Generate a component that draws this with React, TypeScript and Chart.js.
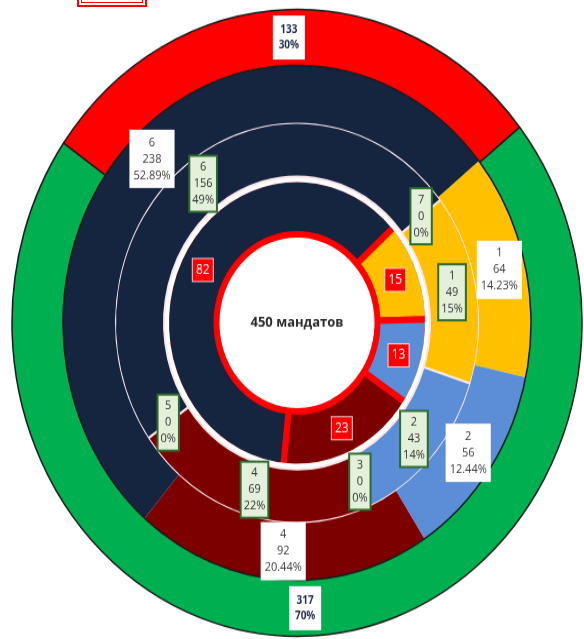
import React, { useEffect, useRef } from "react";
import { Chart, registerables } from "chart.js";

Chart.register(...registerables);

// ---- data ----
const centerTitle = "450 мандатов";
const coalitionSeats = [133, 317];
const coalitionPct = ["30%", "70%"];
const factionCategories = ["1", "2", "4", "6"];
const factionSeats = [64, 56, 92, 238];
const factionPct = ["14.23%", "12.44%", "20.44%", "52.89%"];
const districtCategories = ["1", "2", "3", "4", "5", "6", "7"];
const districtSeats = [49, 43, 0, 69, 0, 156, 0];
const districtPct = ["15%", "14%", "0%", "22%", "0%", "49%", "0%"];
const listSeats = [15, 13, 23, 82];

// ---- styles ----
const RED = "#ff0000";
const GREEN = "#00b050";
const YELLOW = "#ffc000";
const BLUE = "#5b8ed6";
const DARKRED = "#7d0000";
const NAVY = "#15243f";
const GREY = "#999999";
const FONT = "'Open Sans', 'DejaVu Sans', sans-serif";

type LabelSpec = {
  lines: (i: number) => string[];
  fill: string;
  stroke?: string;
  strokeWidth?: number;
  color: string;
  font: string;
  lineHeight: number;
  padX: number;
  padY: number;
  minW?: number;
};

const labelSpecs: (LabelSpec | null)[] = [
  {
    lines: (i) => [String(coalitionSeats[i]), coalitionPct[i]],
    fill: "#ffffff",
    color: "#1f2d4a",
    font: `bold 10px ${FONT}`,
    lineHeight: 14,
    padX: 5,
    padY: 6,
    minW: 32,
  },
  {
    lines: (i) => [factionCategories[i], String(factionSeats[i]), factionPct[i]],
    fill: "#ffffff",
    color: "#404040",
    font: `11px ${FONT}`,
    lineHeight: 15,
    padX: 4,
    padY: 4,
  },
  {
    lines: (i) => [districtCategories[i], String(districtSeats[i]), districtPct[i]],
    fill: "#e3f0da",
    stroke: "#2f6b2f",
    strokeWidth: 2,
    color: "#333333",
    font: `11px ${FONT}`,
    lineHeight: 15,
    padX: 3,
    padY: 3,
  },
  null,
  {
    lines: (i) => [String(listSeats[i])],
    fill: RED,
    stroke: "rgba(255,230,230,0.9)",
    strokeWidth: 1,
    color: "#ffffff",
    font: `12px ${FONT}`,
    lineHeight: 15,
    padX: 3,
    padY: 3,
    minW: 21,
  },
];

const boxLabelPlugin = {
  id: "boxLabels",
  afterDatasetsDraw(chart: any) {
    const ctx = chart.ctx as CanvasRenderingContext2D;
    ctx.save();
    labelSpecs.forEach((spec, di) => {
      if (!spec) return;
      const meta = chart.getDatasetMeta(di);
      meta.data.forEach((el: any, i: number) => {
        const p = el.tooltipPosition(false);
        const lines = spec.lines(i);
        ctx.font = spec.font;
        let w = 0;
        lines.forEach((l) => (w = Math.max(w, ctx.measureText(l).width)));
        w = Math.max(w + spec.padX * 2, spec.minW || 0);
        const h = lines.length * spec.lineHeight + spec.padY * 2;
        const x0 = p.x - w / 2;
        const y0 = p.y - h / 2;
        ctx.fillStyle = spec.fill;
        ctx.fillRect(x0, y0, w, h);
        if (spec.stroke) {
          ctx.strokeStyle = spec.stroke;
          ctx.lineWidth = spec.strokeWidth || 1;
          ctx.strokeRect(x0, y0, w, h);
        }
        ctx.fillStyle = spec.color;
        ctx.textAlign = "center";
        ctx.textBaseline = "middle";
        lines.forEach((l, k) => {
          ctx.fillText(l, p.x, y0 + spec.padY + spec.lineHeight * (k + 0.5));
        });
      });
    });
    const a = chart.chartArea;
    ctx.font = `bold 13px ${FONT}`;
    ctx.fillStyle = "#2b2b2b";
    ctx.textAlign = "center";
    ctx.textBaseline = "middle";
    ctx.fillText(centerTitle, (a.left + a.right) / 2, (a.top + a.bottom) / 2);
    ctx.restore();
  },
};

export default function App() {
  const ref = useRef<HTMLCanvasElement | null>(null);

  useEffect(() => {
    if (!ref.current) return;
    const chart = new Chart(ref.current, {
      type: "doughnut",
      data: {
        labels: districtCategories,
        datasets: [
          {
            data: coalitionSeats,
            backgroundColor: [RED, GREEN],
            borderColor: "#1b1b1b",
            borderWidth: 1.5,
            rotation: -55,
            weight: 51,
          } as any,
          {
            data: factionSeats,
            backgroundColor: [YELLOW, BLUE, DARKRED, NAVY],
            borderWidth: 0,
            rotation: 51,
            weight: 52,
          },
          {
            data: districtSeats,
            backgroundColor: [YELLOW, BLUE, GREY, DARKRED, GREY, NAVY, GREY],
            borderColor: "#fbe6ea",
            borderWidth: 2,
            rotation: 52,
            weight: 49,
          },
          {
            data: [1],
            backgroundColor: ["#ffffff"],
            borderColor: "#ffffff",
            borderWidth: 6,
            rotation: 48,
            weight: 2,
          },
          {
            data: listSeats,
            backgroundColor: [YELLOW, BLUE, DARKRED, NAVY],
            borderColor: RED,
            borderWidth: 6,
            rotation: 48,
            weight: 50.5,
          },
        ] as any,
      },
      options: {
        responsive: false,
        maintainAspectRatio: false,
        animation: false,
        radius: 285,
        cutout: "28.25%",
        layout: { padding: { left: 12, right: 2, top: 9, bottom: 2 } },
        plugins: {
          legend: { display: false },
          tooltip: { enabled: false },
        },
      } as any,
      plugins: [boxLabelPlugin],
    });
    return () => chart.destroy();
  }, []);

  return (
    <div
      style={{
        position: "fixed",
        left: 0,
        top: 0,
        width: 584,
        height: 639,
        overflow: "hidden",
        background: "#ffffff",
      }}
    >
      <div
        style={{
          position: "absolute",
          left: 77,
          top: -20,
          width: 66,
          height: 23,
          border: "2px solid #ff0000",
          background: "#ffffff",
        }}
      >
        <div
          style={{
            position: "absolute",
            left: 2,
            top: 0,
            right: 2,
            bottom: 2,
            border: "1px solid #ff0000",
          }}
        />
      </div>
      <canvas
        ref={ref}
        width={584}
        height={580}
        style={{
          position: "absolute",
          left: 0,
          top: 0,
          width: 584,
          height: 580,
          transform: "scaleY(1.1)",
          transformOrigin: "0 0",
        }}
      />
    </div>
  );
}
